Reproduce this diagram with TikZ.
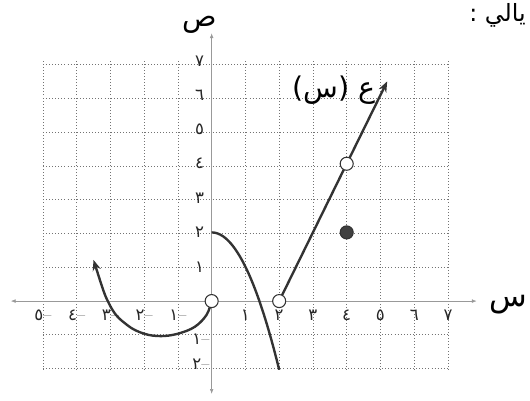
\documentclass[tikz,border=0pt]{standalone}
\usepackage{fontspec}
\newfontfamily\arabicfont[Script=Arabic]{DejaVu Sans}
\TeXXeTstate=1
\usetikzlibrary{arrows.meta}

\tikzset{
  tick/.style={font=\fontsize{14}{16}\selectfont\arabicfont,text=black!85,inner sep=1pt},
  curve/.style={black!80,line width=2pt},
  opendot/.style={circle,draw=black!80,fill=white,line width=0.9pt,inner sep=0pt,minimum size=11pt},
  fulldot/.style={circle,draw=black!80,fill=black!75,line width=0.9pt,inner sep=0pt,minimum size=11pt}
}
\newcommand{\negdig}[1]{{\arabicfont #1}{\rmfamily\textendash}}

\begin{document}
\begin{tikzpicture}[x=1cm,y=1.017cm,>={Stealth[length=9pt,width=7pt]}]
\useasboundingbox (-6.27,-2.91) rectangle (9.43,8.77);

% grid and axes
\draw[black!55,line width=0.6pt,dotted] (-5,-2) grid (7,7);
\draw[gray!80,line width=0.4pt,{Latex[length=4pt]}-{Latex[length=4pt]}] (-5.95,0)--(7.85,0);
\draw[gray!80,line width=0.4pt,{Latex[length=4pt]}-{Latex[length=4pt]}] (0,-2.7)--(0,7.8);

\foreach \x/\d in {1/١,2/٢,3/٣,4/٤,5/٥,6/٦,7/٧}{
    \node[tick] (xt\x) at (\x,-0.4) {\d};
}
\foreach \x/\d in {1/١,2/٢,3/٣,4/٤,5/٥}{
    \node[tick] (xn\x) at (-\x,-0.4) {\negdig{\d}};
}
\foreach \y/\d in {1/١,2/٢,3/٣,4/٤,5/٥,6/٦,7/٧}{
    \node[tick] (yt\y) at (-0.36,\y) {\d};
}
\node[tick] (yn1) at (-0.32,-1.1) {\negdig{١}};
\node[tick] (yn2) at (-0.32,-1.85) {\negdig{٢}};

\node[font=\fontsize{24}{26}\selectfont\arabicfont] (ylab) at (-0.35,8.05) {\beginR ص\endR};
\node[font=\fontsize{26}{28}\selectfont\arabicfont] (xlab) at (8.8,-0.1) {\beginR س\endR};
\node[font=\fontsize{24}{26}\selectfont\arabicfont] (glab) at (3.62,6.15) {\beginR ع (س)\endR};
\node[font=\fontsize{20}{22}\selectfont\arabicfont,anchor=east] (head) at (9.43,8.33) {\beginR يالي :\endR};

% the pieces of the function
\coordinate (p0) at (0,0);
\coordinate (p2) at (2,0);
\coordinate (p4) at (4,4);
\coordinate (q4) at (4,2);
\coordinate (ltip) at (-3.5,1.2);
\coordinate (rtip) at (5.2,6.4);

\draw[curve,<-] plot[smooth,tension=0.6] coordinates {(ltip) (-3,-0.15) (-2.5,-0.7) (-2,-0.95) (-1.5,-1.02) (-1,-0.95) (-0.5,-0.75) (-0.15,-0.4) (p0)};
\draw[curve] plot[domain=0:2,samples=40] (\x,{2-\x*\x});
\draw[curve,->] (p2)--(rtip);

\node[opendot] (h0) at (p0) {};
\node[opendot] (h2) at (p2) {};
\node[opendot] (h4) at (p4) {};
\node[fulldot] (d4) at (q4) {};
\end{tikzpicture}
\end{document}
